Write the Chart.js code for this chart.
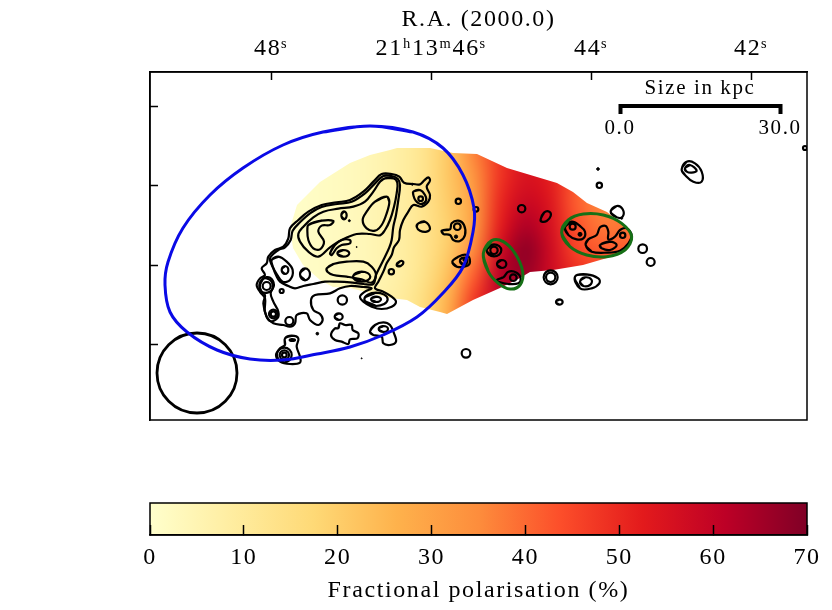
<!DOCTYPE html>
<html><head><meta charset="utf-8">
<style>html,body{margin:0;padding:0;background:#fff}canvas{position:absolute;left:0}</style>
<script src="https://cdn.jsdelivr.net/npm/chart.js@4"></script></head>
<body>
<canvas id="map" width="832" height="440" style="top:0"></canvas>
<canvas id="bar" width="832" height="170" style="top:440px"></canvas>
<script>
// Sky tick positions and labels
const raTicks=[271,431,591,751];
const raLabels=['48ˢ','21ʰ13ᵐ46ˢ','44ˢ','42ˢ'];
const decTicks=[106,185,265,344];
const cbarTicks=[0,10,20,30,40,50,60,70];
const ylOrRd=['#ffffcc','#ffeda0','#fed976','#feb24c','#fd8d3c','#fc4e2a','#e31a1c','#bd0026','#800026'];
const fontName='"Liberation Serif"';

// Fractional polarisation (%)
const fpX=[275,300,325,350,375,400,425,450,475,500,525,550,575,600,625,650];
const fpY=[150,175,200,225,250,275,300,325];
const fpRows=[
[1,1,2,3,5,8,13,22,37,48,55,52,45,40,38,38],
[1,1,2,3,5,8,13,22,34,48,55,52,43,38,36,36],
[1,1,2,3,5,8,13,21,32,50,58,54,42,36,36,38],
[1,1,2,3,5,8,13,20,32,52,63,56,44,38,38,40],
[1,1,2,3,5,8,13,21,36,57,68,58,46,42,42,42],
[1,1,2,3,5,8,14,24,42,62,66,58,50,46,44,44],
[1,1,2,3,6,9,16,28,48,60,62,60,52,48,46,46],
[1,1,2,3,6,9,16,30,50,60,62,60,52,48,46,46]];
const fpOutline=[[290,228],[297,205],[320,182],[350,163],[370,155],[390,150],[397,148],[430,148],[453,153],[477,154],[507,168],[557,183],[573,192],[587,203],[607,212],[627,228],[632,238],[627,250],[607,258],[583,265],[553,270],[530,272],[520,278],[500,288],[473,300],[447,314],[440,312],[420,307],[407,300],[390,298],[350,288],[333,287],[320,280],[303,265],[293,248]];

// Contours, read on the west and east map tiles
const westContours=[
[[395,42],[425,42],[448,50],[462,68],[490,72],[510,73],[522,62],[535,52],[540,62],[530,80],[540,105],[535,125],[515,140],[490,135],[475,155],[460,180],[450,210],[447,240],[432,262],[425,285],[410,310],[400,335],[385,365],[375,385],[400,395],[425,410],[438,425],[425,440],[395,447],[365,440],[340,425],[330,410],[345,395],[365,385],[340,381],[300,378],[270,385],[240,400],[195,405],[183,420],[190,450],[210,462],[218,480],[205,495],[180,480],[170,460],[140,465],[135,490],[120,500],[100,495],[70,490],[50,470],[40,430],[45,405],[30,395],[20,375],[30,355],[45,345],[35,325],[50,310],[55,290],[75,270],[100,260],[115,235],[120,205],[145,180],[175,155],[215,135],[260,127],[300,120],[340,95],[370,65]],
[[400,48],[425,48],[443,56],[450,75],[445,120],[438,165],[430,200],[425,240],[418,262],[405,290],[390,320],[378,345],[370,372],[340,372],[300,367],[260,365],[225,365],[190,372],[160,378],[135,385],[115,378],[90,365],[78,345],[70,325],[60,295],[85,270],[105,262],[122,240],[128,212],[150,187],[180,160],[215,141],[262,132],[305,125],[345,100],[375,70]],
[[405,55],[430,55],[442,68],[440,100],[432,140],[420,180],[405,210],[390,226],[360,222],[320,222],[275,240],[240,262],[205,290],[175,275],[150,245],[145,222],[160,200],[190,172],[220,155],[265,146],[310,140],[345,125],[370,95],[390,65]],
[[410,110],[418,125],[410,160],[395,195],[375,212],[350,205],[338,180],[350,155],[375,125]],
[[175,195],[215,182],[250,183],[240,195],[215,197],[205,215],[222,245],[210,268],[190,265],[175,240],[172,210]],
[[274,166],[282,154],[290,166],[282,178]],
[[240,280],[255,255],[275,240],[300,240],[300,250],[275,255],[260,265],[245,285]],
[[262,280],[280,270],[298,280],[280,290]],
[[230,325],[250,312],[290,305],[340,305],[365,320],[378,345],[365,368],[335,358],[290,350],[250,345],[232,335]],
[[309,350],[335,335],[361,350],[335,365]],
[[343,418],[378,398],[413,418],[378,438]],
[[363,418],[378,410],[393,418],[378,426]],
[[490,95],[510,90],[525,105],[528,122],[512,132],[497,122],[490,105]],
[[505,190],[525,185],[540,205],[530,215],[510,212],[500,200]],
[[575,212],[600,208],[605,190],[625,182],[642,195],[645,225],[630,243],[610,240],[600,225],[580,222]],
[[607,305],[625,290],[650,285],[660,305],[650,318],[620,320]],
[[630,300],[645,293],[652,305],[640,315]],
[[440,316],[450,304],[460,306],[452,318]],
[[150,343],[165,325],[180,343],[165,361]],
[[95,330],[105,318],[115,330],[105,342]],
[[28,375],[35,360],[50,355],[65,365],[68,385],[55,397],[35,395]],
[[254,470],[266,460],[278,470],[266,480]],
[[270,490],[285,495],[305,495],[308,510],[325,520],[322,535],[300,538],[295,552],[275,545],[255,540],[243,525],[255,505],[265,505]],
[[360,515],[375,495],[400,487],[420,495],[432,520],[438,545],[420,555],[400,550],[395,530],[370,525]],
[[386,507],[400,498],[414,507],[400,516]],
[[105,535],[125,527],[145,535],[140,560],[150,590],[150,608],[120,612],[90,605],[78,585],[90,565],[105,555]],
[[119,540],[127,537],[135,540],[127,543]]
];
const southWestContours=[
[[330,510],[340,490],[360,488],[372,510],[362,535],[370,560],[385,590],[382,610],[360,618],[345,590],[345,550],[330,530]],
[[365,435],[385,425],[410,440],[428,465],[420,495],[398,500],[382,480],[368,455]]
];
const eastContours=[
[[725,88],[740,65],[765,70],[785,95],[785,125],[760,125],[735,105]],
[[735,85],[750,75],[770,92],[755,98],[740,95]],
[[302,238],[312,218],[328,215],[332,228],[320,243],[305,245]],
[[512,215],[530,198],[548,208],[548,230],[530,232]],
[[375,262],[395,245],[420,258],[435,275],[430,295],[410,298],[385,285]],
[[437,315],[445,298],[470,285],[480,262],[497,258],[505,275],[505,298],[525,290],[540,270],[560,265],[575,285],[565,310],[540,332],[500,338],[455,335]],
[[480,315],[510,305],[530,315],[510,330],[485,325]],
[[140,331],[162,313],[184,331],[162,349]],
[[171,372],[185,360],[199,372],[185,384]],
[[170,420],[190,412],[205,395],[230,398],[242,415],[235,430],[205,432],[175,425]],
[[405,410],[440,403],[475,415],[478,430],[455,445],[420,445]],
[[420,425],[435,412],[455,420],[450,435],[430,438]],
[[348,486],[358,478],[368,486],[358,494]]
];
// Compact sources: [x, y, radius] on the tiles
const westRings=[[512,116,7],[625,124,8],[678,148,7],[622,200,10],[424,335,8],[50,378,12],[95,393,6],[70,462,8],[70,462,13],[118,483,12],[277,420,14],[103,585,22],[103,585,14],[103,585,7],[648,580,13]];
const westDots=[[298,182,3],[487,73,3],[320,261,1.5],[618,230,5],[643,300,4],[202,521,4],[335,595,1.5]];
const eastRings=[[478,136,8],[245,206,11],[398,260,9],[548,286,8],[162,331,11],[220,413,10],[332,412,21],[332,412,14],[608,326,13],[632,366,12]];
const eastDots=[[474,87,4],[420,283,6],[545,235,3]];
const edgeMark=[[805,148,2]];
// Regions, beam and size bar
const blueRegion=[[370,126],[413,132],[443,148],[463,175],[474,208],[473,232],[463,267],[443,293],[417,317],[383,335],[350,347],[317,354],[283,360],[250,359],[217,350],[187,332],[170,312],[165,285],[168,262],[183,228],[210,195],[243,168],[283,145],[323,132]];
const greenNorth=[[365,278],[385,240],[430,222],[490,225],[545,250],[575,290],[555,330],[500,350],[440,345],[390,320]];
const greenSouth=[[130,340],[155,302],[190,305],[225,340],[248,395],[240,435],[210,447],[175,430],[145,395]];
const beam=[[197,373,40]];
const sizeBar=[[620.5,114],[620.5,106],[780.5,106],[780.5,114]];
const sizeNotes=[['Size in kpc',700,88],['0.0',620,128],['30.0',780,128]];

const west=p=>({x:250+p[0]/3,y:160+p[1]/3});
const east=p=>({x:440+p[0]/3,y:140+p[1]/3});
const southWest=p=>({x:150+p[0]/3,y:115+p[1]/3});
const westR=p=>({x:250+p[0]/3,y:160+p[1]/3,r:p[2]/3});
const eastR=p=>({x:440+p[0]/3,y:140+p[1]/3,r:p[2]/3});
const closed=a=>[a[a.length-1],...a,a[0],a[1]];
const plain=p=>({x:p[0],y:p[1]});
const roundness=n=>n<=4?0.55:n<=7?0.42:0.36;

function hexRGB(h){return [1,3,5].map(i=>parseInt(h.slice(i,i+2),16));}
function fpColor(v){
  const t=Math.max(0,Math.min(1,v/70))*(ylOrRd.length-1),i=Math.min(Math.floor(t),ylOrRd.length-2),f=t-i;
  const a=hexRGB(ylOrRd[i]),b=hexRGB(ylOrRd[i+1]);
  return `rgb(${a.map((c,k)=>Math.round(c+(b[k]-c)*f)).join(',')})`;
}
let fpPattern=null;
function fpFill(ctx){
  const c=ctx.chart;
  if(!c.scales.x||!c.chartArea) return 'transparent';
  if(fpPattern) return fpPattern;
  const small=document.createElement('canvas');small.width=fpX.length;small.height=fpY.length;
  const s=small.getContext('2d');
  fpRows.forEach((row,j)=>row.forEach((v,i)=>{s.fillStyle=fpColor(v);s.fillRect(i,j,1,1);}));
  const big=document.createElement('canvas');big.width=c.width;big.height=c.height;
  const b=big.getContext('2d');b.imageSmoothingEnabled=true;b.imageSmoothingQuality='high';
  const x0=c.scales.x.getPixelForValue(fpX[0]),x1=c.scales.x.getPixelForValue(fpX[1]);
  const y0=c.scales.y.getPixelForValue(fpY[0]),y1=c.scales.y.getPixelForValue(fpY[1]);
  const dx=x1-x0,dy=y1-y0;
  b.drawImage(small,x0-dx/2,y0-dy/2,dx*fpX.length,dy*fpY.length);
  fpPattern=c.ctx.createPattern(big,'no-repeat');
  return fpPattern;
}
const contourStyle={type:'scatter',showLine:true,pointRadius:0,borderColor:'#000',borderWidth:2.2,fill:false,order:5};
const line=(pts,extra)=>Object.assign({},contourStyle,{data:closed(pts),tension:roundness(pts.length)},extra||{});
const mapDatasets=[
  ...westContours.map(a=>line(a.map(west))),
  ...southWestContours.map(a=>line(a.map(southWest))),
  ...eastContours.map(a=>line(a.map(east))),
  {type:'bubble',data:westRings.map(westR).concat(eastRings.map(eastR)).concat(edgeMark.map(p=>({x:p[0],y:p[1],r:p[2]}))),backgroundColor:'transparent',borderColor:'#000',borderWidth:2.2,order:5},
  {type:'bubble',data:westDots.map(westR).concat(eastDots.map(eastR)),backgroundColor:'#000',borderColor:'#000',borderWidth:1,order:5},
  line(blueRegion.map(plain),{borderColor:'#0a0ae6',borderWidth:3,order:2}),
  line(greenNorth.map(east),{borderColor:'#167016',borderWidth:3,order:2}),
  line(greenSouth.map(east),{borderColor:'#167016',borderWidth:3,order:2}),
  {type:'bubble',data:beam.map(p=>({x:p[0],y:p[1],r:p[2]})),backgroundColor:'transparent',borderColor:'#000',borderWidth:2.8,order:2},
  {type:'scatter',showLine:true,data:sizeBar.map(plain),pointRadius:0,borderColor:'#000',borderWidth:4,tension:0,borderCapStyle:'butt',borderJoinStyle:'miter',order:1},
  {type:'scatter',showLine:true,data:fpOutline.map(plain),pointRadius:0,borderWidth:0,tension:0,fill:'shape',backgroundColor:fpFill,order:10}
];
const frame={id:'frame',afterDraw(c){const {left,top,width,height}=c.chartArea,x=c.ctx;x.save();x.strokeStyle='#000';x.lineWidth=1.5;x.strokeRect(left,top,width,height);x.restore();}};
const spacing=(px)=>({id:'spacing',beforeDraw(c){c.ctx.letterSpacing=px;}});
const notes={id:'notes',afterDatasetsDraw(c){const x=c.ctx;x.save();x.fillStyle='#000';x.font='21px '+fontName;x.textAlign='center';x.textBaseline='middle';
  sizeNotes.forEach(n=>x.fillText(n[0],c.scales.x.getPixelForValue(n[1]),c.scales.y.getPixelForValue(n[2])));x.restore();}};

new Chart(document.getElementById('map'),{
  type:'scatter',
  data:{datasets:mapDatasets},
  plugins:[spacing('1.6px'),frame,notes],
  options:{responsive:false,animation:false,devicePixelRatio:1,events:[],
    layout:{autoPadding:false,padding:{left:0,top:0,right:25,bottom:20}},
    plugins:{legend:{display:false},tooltip:{enabled:false}},
    scales:{
      x:{type:'linear',position:'top',min:150,max:807,
        afterBuildTicks:s=>{s.ticks=raTicks.map(v=>({value:v}));},
        afterFit:s=>{s.height=72;s.paddingLeft=0;s.paddingRight=0;},
        ticks:{color:'#000',font:{family:fontName,size:24},padding:17,autoSkip:false,maxRotation:0,callback:(v,i)=>raLabels[i]},
        grid:{drawOnChartArea:false,tickLength:-8,tickWidth:1.5,tickColor:'#000',z:1},
        border:{display:true,color:'#000',width:1.5,z:1},
        title:{display:true,text:'R.A. (2000.0)',color:'#000',font:{family:fontName,size:24},padding:{top:5,bottom:0}}},
      y:{type:'linear',position:'left',reverse:true,min:72,max:420,
        afterBuildTicks:s=>{s.ticks=decTicks.map(v=>({value:v}));},
        afterFit:s=>{s.width=150;},
        ticks:{display:false},
        grid:{drawOnChartArea:false,tickLength:-8,tickWidth:1.5,tickColor:'#000',z:1},
        border:{display:true,color:'#000',width:1.5,z:1}}
    }}
});

new Chart(document.getElementById('bar'),{
  type:'bar',
  data:{labels:['Fractional polarisation'],datasets:[{data:[[cbarTicks[0],cbarTicks[cbarTicks.length-1]]],barPercentage:1,categoryPercentage:1,borderWidth:0,
    backgroundColor(ctx){const a=ctx.chart.chartArea;if(!a)return ylOrRd[4];const g=ctx.chart.ctx.createLinearGradient(a.left,0,a.right,0);ylOrRd.forEach((c,i)=>g.addColorStop(i/(ylOrRd.length-1),c));return g;}}]},
  plugins:[spacing('1.6px'),frame],
  options:{indexAxis:'y',responsive:false,animation:false,devicePixelRatio:1,events:[],
    layout:{autoPadding:false,padding:{left:150,top:63,right:25,bottom:0}},
    plugins:{legend:{display:false},tooltip:{enabled:false}},
    scales:{
      x:{type:'linear',position:'bottom',min:0,max:70,
        afterBuildTicks:s=>{s.ticks=cbarTicks.map(v=>({value:v}));},
        afterFit:s=>{s.height=75;s.paddingLeft=0;s.paddingRight=0;},
        ticks:{color:'#000',font:{family:fontName,size:24},padding:18,autoSkip:false,maxRotation:0},
        grid:{drawOnChartArea:false,tickLength:-10,tickWidth:1.5,tickColor:'#000',z:1},
        border:{display:true,color:'#000',width:1.5,z:1},
        title:{display:true,text:'Fractional polarisation (%)',color:'#000',font:{family:fontName,size:24},padding:{top:0,bottom:5}}},
      y:{type:'category',display:false}
    }}
});
</script>
</body></html>
